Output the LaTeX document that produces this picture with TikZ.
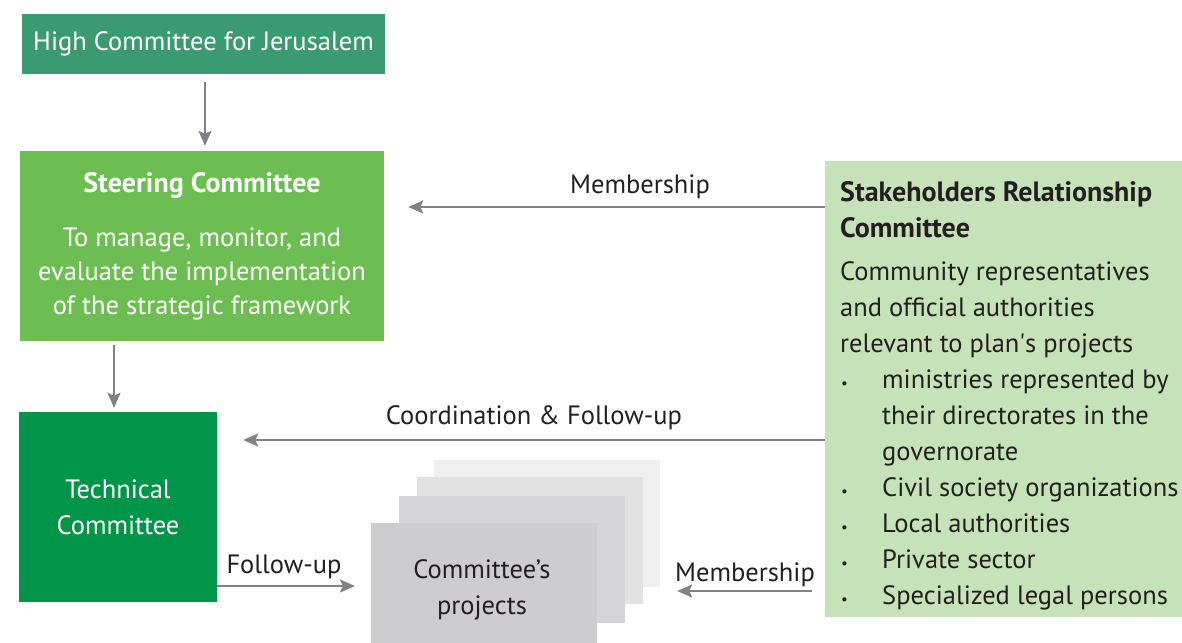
\documentclass[tikz,border=0pt]{standalone}
\usepackage{fontspec}
\setmainfont{PT Sans}
\usetikzlibrary{arrows.meta,calc}
\definecolor{highc}{HTML}{3A9B73}
\definecolor{steerc}{HTML}{6CBE52}
\definecolor{techc}{HTML}{009548}
\definecolor{stakec}{HTML}{C6E2B8}
\definecolor{arrc}{HTML}{808285}
\definecolor{txt}{HTML}{231F20}
\definecolor{pa}{HTML}{EFEFF0}
\definecolor{pb}{HTML}{E2E2E3}
\definecolor{pc}{HTML}{D5D5D7}
\definecolor{pd}{HTML}{CDCDCF}
\newcommand{\bigb}[1]{{\fontsize{28}{34}\selectfont\bfseries #1}}
\newcommand{\blt}{\makebox[42pt][l]{\hspace{1pt}\fontsize{15}{15}\selectfont•}}
\begin{document}
\begin{tikzpicture}[x=1pt,y=1pt,
  box/.style={draw=none,inner sep=0pt,align=center,text=white,font=\fontsize{26.5}{34}\selectfont},
  arr/.style={draw=arrc,line width=2.4pt,-{Stealth[length=15pt,width=13pt,inset=3pt]}},
  lbl/.style={text=txt,font=\fontsize{26.5}{30}\selectfont,inner sep=0pt},
  proj/.style={draw=none,inner sep=0pt,minimum width=226pt,minimum height=127pt}]
\useasboundingbox (0,0) rectangle (1182,-642);
% boxes
\node[box,fill=highc,minimum width=363pt,minimum height=60pt] (high) at (203.5,-44) {High Committee for Jerusalem};
\node[box,fill=steerc,minimum width=364pt,minimum height=190pt] (steer) at (202,-246)
  {\bigb{Steering Committee}\\[20pt]To manage, monitor, and\\evaluate the implementation\\of the strategic framework};
\node[box,fill=techc,minimum width=198pt,minimum height=190pt,font=\fontsize{26.5}{36}\selectfont] (tech) at (118,-507) {Technical\\Committee};
\node[draw=none,fill=stakec,inner sep=0pt,minimum width=357pt,minimum height=456pt,anchor=north west] (stake) at (825,-161) {};
\node[anchor=north west,inner sep=0pt,align=left,text=txt,font=\fontsize{26.5}{36}\selectfont] (staketext) at (840,-181)
  {\bigb{Stakeholders Relationship}\\
   \bigb{Committee}\\[7pt]
   Community representatives\\
   and official authorities\\
   relevant to plan\textquotesingle s projects\\
   \blt ministries represented by\\
   \hspace*{42pt}their directorates in the\\
   \hspace*{42pt}governorate\\
   \blt Civil society organizations\\
   \blt Local authorities\\
   \blt Private sector\\
   \blt Specialized legal persons};
% project stack
\node[proj,fill=pa] (p4) at (547,-523.5) {};
\node[proj,fill=pb] (p3) at (530,-540.5) {};
\node[proj,fill=pc] (p2) at (512,-559.5) {};
\node[proj,fill=pd,anchor=north west] (p1) at (371,-523) {};
\node[lbl,align=center,font=\fontsize{26.5}{36}\selectfont] (ptext) at (482,-590) {Committee’s\\projects};
% connectors
\draw[arr,shorten <=8pt,shorten >=5pt] ([xshift=1.5pt]high.south) -- ([xshift=3pt]steer.north);
\draw[arr,shorten <=4pt,shorten >=4pt] (steer.south -| 114,0) -- ([xshift=-4pt]tech.north);
\draw[arr,shorten >=24pt] (stake.north west |- 0,-207) -- (steer.east |- 0,-207);
\draw[arr,shorten >=26pt] (stake.west |- 0,-440) -- (tech.east |- 0,-440);
\draw[arr,shorten >=16pt] (tech.east |- 0,-586) -- (p1.west |- 0,-586);
\draw[arr,shorten <=13pt,shorten >=17pt] (stake.west |- 0,-591) -- (p4.east |- 0,-591);
% labels
\node[lbl] (l1) at (640,-187) {Membership};
\node[lbl] (l2) at (534,-418) {Coordination \& Follow-up};
\node[lbl] (l3) at (284,-567) {Follow-up};
\node[lbl] (l4) at (745,-575) {Membership};
\end{tikzpicture}
\end{document}
